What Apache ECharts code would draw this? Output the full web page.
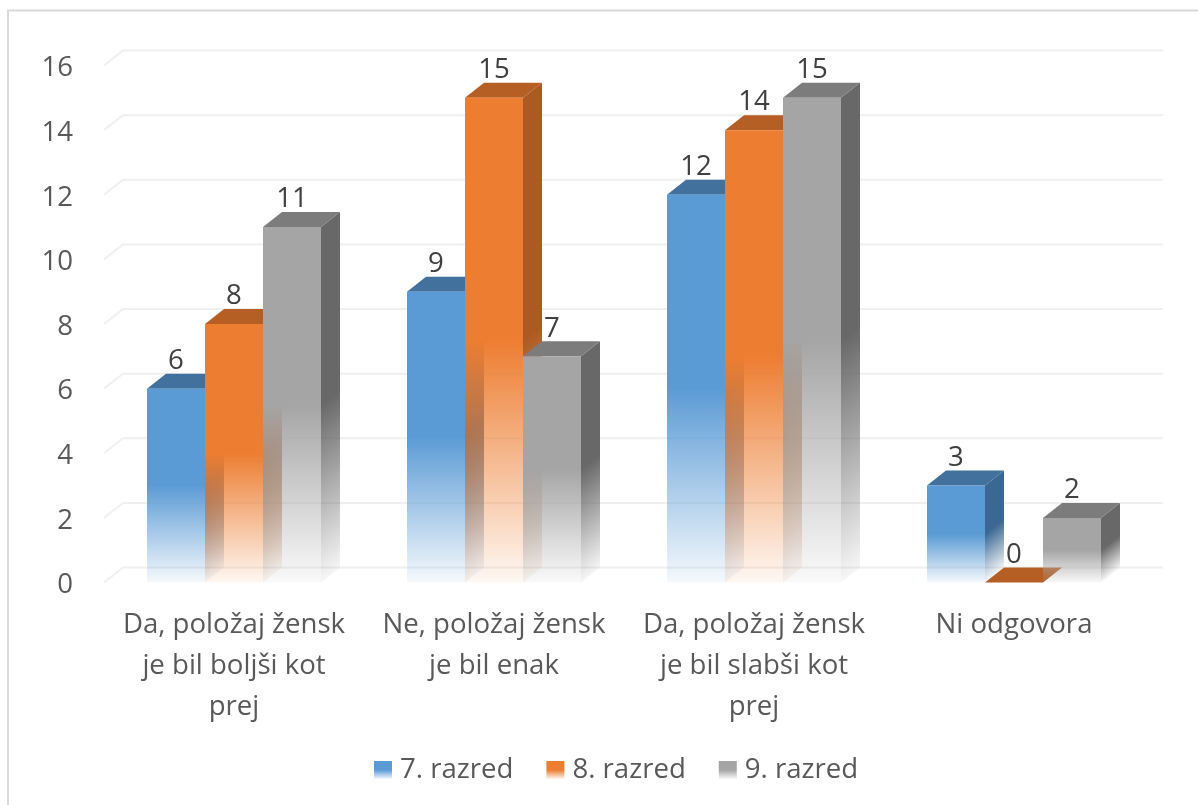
<!DOCTYPE html>
<html>
<head>
<meta charset="utf-8">
<style>
  html, body { margin: 0; padding: 0; background: #fff; }
  #main { width: 1198px; height: 805px; }
</style>
<script src="https://cdn.jsdelivr.net/npm/echarts@6/dist/echarts.min.js"></script>
</head>
<body>
<div id="main"></div>
<script>
const categories = [
  'Da, položaj žensk\nje bil boljši kot\nprej',
  'Ne, položaj žensk\nje bil enak',
  'Da, položaj žensk\nje bil slabši kot\nprej',
  'Ni odgovora'
]
const razred7 = [6, 9, 12, 3]
const razred8 = [8, 15, 14, 0]
const razred9 = [11, 7, 15, 2]
const yTicks = [0, 2, 4, 6, 8, 10, 12, 14, 16]

const FONT = '"Open Sans", sans-serif'
const FONT_SIZE = 27.6
const BAR_W = 58
const DX = 19
const DY = 15

const stops = (r, g, b) => [
  { offset: 0, color: `rgba(${r},${g},${b},1)` },
  { offset: 0.5, color: `rgba(${r},${g},${b},1)` },
  { offset: 1, color: `rgba(${r},${g},${b},0.06)` }
]

// front face fades out in the lower half, like the reflection in the original
function fade(r, g, b) {
  return new echarts.graphic.LinearGradient(0, 0, 0, 1, stops(r, g, b))
}

// side face: the fade runs along the depth direction, so it has to be slanted
function sideFade(x, yT, yB, rgb) {
  const k = DX * (yB - yT) / (DX * DX + DY * DY)
  return new echarts.graphic.LinearGradient(x, yT, x + DY * k, yT + DX * k, stops(...rgb), true)
}

function barSeries(name, data, index, front, side, top) {
  return {
    name,
    type: 'custom',
    data,
    z: 3 + index,
    itemStyle: { color: fade(...front) },
    renderItem(params, api) {
      const cat = params.dataIndex
      const val = api.value(1)
      const topPt = api.coord([cat, val])
      const basePt = api.coord([cat, 0])
      const x0 = topPt[0] + (index - 1.5) * BAR_W
      const x1 = x0 + BAR_W
      const yT = topPt[1]
      const yB = basePt[1]
      const children = []
      // 右侧面
      if (val > 0) {
        children.push({
          type: 'polygon',
          shape: { points: [[x1, yT], [x1 + DX, yT - DY], [x1 + DX, yB - DY], [x1, yB]] },
          style: { fill: sideFade(x1, yT, yB, side) }
        })
      }
      // 顶面
      children.push({
        type: 'polygon',
        shape: { points: [[x0, yT], [x0 + DX, yT - DY], [x1 + DX, yT - DY], [x1, yT]] },
        style: { fill: `rgb(${top.join(',')})` }
      })
      // 正面
      children.push({
        type: 'rect',
        shape: { x: x0, y: yT, width: BAR_W, height: yB - yT },
        style: { fill: fade(...front) }
      })
      children.push({
        type: 'text',
        z2: 50,
        style: {
          text: String(val),
          x: (x0 + x1) / 2,
          y: yT - DY - 12.5,
          align: 'center',
          verticalAlign: 'middle',
          font: `${FONT_SIZE}px ${FONT}`,
          fill: '#404040'
        }
      })
      return { type: 'group', children }
    }
  }
}

const gridSeries = {
  type: 'custom',
  data: yTicks,
  encode: { y: 0 },
  z: 1,
  silent: true,
  renderItem(params, api) {
    const y = api.coord([0, api.value(0)])[1]
    const c = params.coordSys
    return {
      type: 'polyline',
      shape: { points: [[c.x, y], [c.x + DX, y - DY], [c.x + c.width + DX, y - DY]] },
      style: { fill: 'none', stroke: '#F0F0F0', lineWidth: 2 }
    }
  }
}

const myChart = echarts.init(document.getElementById('main'))
const option = {
  animation: false,
  backgroundColor: '#fff',
  textStyle: { fontFamily: FONT },
  graphic: [{
    type: 'polyline',
    shape: { points: [[8, 805], [8, 10.5], [1198, 10.5]] },
    style: { fill: 'none', stroke: '#D9D9D9', lineWidth: 2 },
    silent: true,
    z: 0
  }],
  grid: { left: 104, top: 65.5, width: 1040, height: 517 },
  xAxis: {
    type: 'category',
    data: categories,
    axisLine: { show: false },
    axisTick: { show: false },
    axisLabel: {
      interval: 0,
      margin: 22,
      fontSize: FONT_SIZE,
      lineHeight: 41,
      color: '#595959',
      fontFamily: FONT,
      verticalAlign: 'top'
    }
  },
  yAxis: {
    type: 'value',
    min: 0,
    max: 16,
    interval: 2,
    axisLine: { show: false },
    axisTick: { show: false },
    splitLine: { show: false },
    axisLabel: {
      margin: 31,
      fontSize: FONT_SIZE,
      color: '#595959',
      fontFamily: FONT,
      verticalAlign: 'top',
      lineHeight: 6
    }
  },
  legend: {
    left: 369,
    top: 751,
    itemWidth: 18,
    itemHeight: 18,
    itemGap: 33,
    icon: 'rect',
    textStyle: { fontSize: FONT_SIZE, color: '#595959', fontFamily: FONT, padding: [0, 0, 0, 3] },
    data: ['7. razred', '8. razred', '9. razred']
  },
  series: [
    gridSeries,
    barSeries('7. razred', razred7, 0, [91, 155, 213], [58, 104, 146], [65, 113, 156]),
    barSeries('8. razred', razred8, 1, [237, 125, 49], [172, 90, 33], [182, 95, 36]),
    barSeries('9. razred', razred9, 2, [165, 165, 165], [104, 104, 104], [124, 124, 124])
  ]
}
option && myChart.setOption(option)
</script>
</body>
</html>
